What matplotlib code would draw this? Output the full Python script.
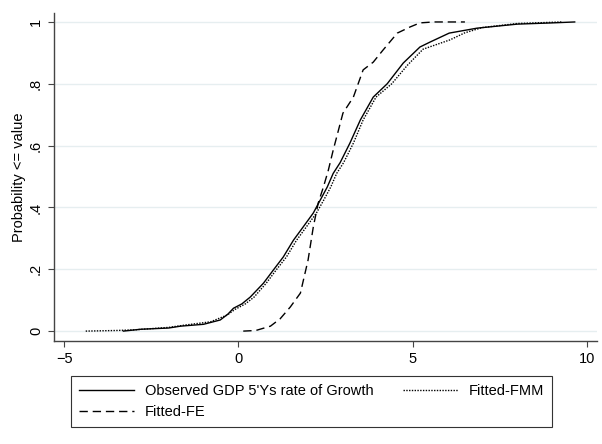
import matplotlib
matplotlib.use("Agg")
import matplotlib.pyplot as plt

plt.rcParams['font.family'] = ['Liberation Sans', 'DejaVu Sans']

# observed empirical CDF of 5-year GDP growth
obs_x = [-3.3, -2.8, -2.0, -1.66, -1.0, -0.52, -0.3, -0.14, 0.1, 0.34, 0.72, 1.0, 1.29,
         1.58, 1.86, 2.15, 2.35, 2.55, 2.72, 2.92, 3.2, 3.5, 3.87, 4.27, 4.73, 5.21, 5.5,
         6.05, 6.85, 8.0, 9.0, 9.65]
obs_y = [0.0, 0.006, 0.01, 0.016, 0.022, 0.036, 0.055, 0.074, 0.088, 0.11, 0.155, 0.197,
         0.24, 0.294, 0.337, 0.382, 0.424, 0.466, 0.51, 0.545, 0.608, 0.683, 0.757, 0.80,
         0.867, 0.919, 0.935, 0.964, 0.98, 0.993, 0.997, 1.0]

# fitted FMM
fmm_x = [-4.38, -3.5, -3.0, -2.0, -1.5, -0.8, -0.32, -0.1, 0.2, 0.45, 0.8, 1.08, 1.38,
         1.67, 1.95, 2.24, 2.45, 2.65, 2.82, 3.02, 3.3, 3.58, 3.95, 4.4, 4.85, 5.3, 6.07,
         6.5, 7.0, 8.0, 9.3]
fmm_y = [0.0, 0.002, 0.004, 0.012, 0.02, 0.03, 0.052, 0.07, 0.088, 0.11, 0.155, 0.197,
         0.24, 0.294, 0.337, 0.382, 0.424, 0.466, 0.51, 0.545, 0.608, 0.683, 0.757, 0.80,
         0.86, 0.912, 0.942, 0.965, 0.982, 0.995, 1.0]

# fitted FE
fe_x = [0.14, 0.5, 0.92, 1.2, 1.49, 1.78, 2.0, 2.15, 2.29, 2.44, 2.58, 2.72, 3.0, 3.3,
        3.58, 3.87, 4.15, 4.56, 4.93, 5.21, 5.6, 6.5]
fe_y = [0.0, 0.002, 0.016, 0.04, 0.078, 0.123, 0.23, 0.337, 0.414, 0.466, 0.52, 0.585,
        0.705, 0.757, 0.845, 0.87, 0.909, 0.964, 0.984, 0.997, 1.0, 1.0]

xticks = [-5, 0, 5, 10]
yticks = [0, 0.2, 0.4, 0.6, 0.8, 1]
ytick_labels = ["0", ".2", ".4", ".6", ".8", "1"]

fig = plt.figure(figsize=(6.02, 4.44), dpi=100)
ax = fig.add_axes([54 / 602, 1 - 341 / 444, (597 - 54) / 602, (341 - 13) / 444])

ax.plot(obs_x, obs_y, color="black", lw=1.0, linestyle="-",
        label="Observed GDP 5'Ys rate of Growth")
ax.plot(fe_x, fe_y, color="black", lw=1.0, linestyle=(0, (6, 3.5)), label="Fitted-FE")
ax.plot(fmm_x, fmm_y, color="black", lw=1.0, linestyle=(0, (1, 1)), label="Fitted-FMM")

ax.set_xlim(-5.29, 10.29)
ax.set_ylim(-0.032, 1.029)
ax.set_xticks(xticks)
ax.set_yticks(yticks)
ax.set_yticklabels(ytick_labels, rotation=90, va="center")
ax.tick_params(labelsize=10.5, length=4, width=0.8, color="#444444", pad=4)
ax.grid(axis="y", color="#e6eef0", lw=1)
ax.set_axisbelow(True)
for s in ["top", "right"]:
    ax.spines[s].set_visible(False)
for s in ["left", "bottom"]:
    ax.spines[s].set_color("#444444")
    ax.spines[s].set_linewidth(1.0)
ax.set_ylabel("Probability <= value", fontsize=10.5, labelpad=2)

leg = fig.legend(loc="lower left", ncol=2, mode="expand", borderaxespad=0,
                 bbox_to_anchor=(71 / 602, 1 - 427 / 444, (552 - 71) / 602, (427 - 376) / 444),
                 fontsize=10.5, handlelength=3.8, handletextpad=0.7, fancybox=False,
                 edgecolor="#333333", borderpad=0.55, labelspacing=0.45, framealpha=1)
leg.get_frame().set_linewidth(0.8)

fig.savefig("out.png", dpi=100)
